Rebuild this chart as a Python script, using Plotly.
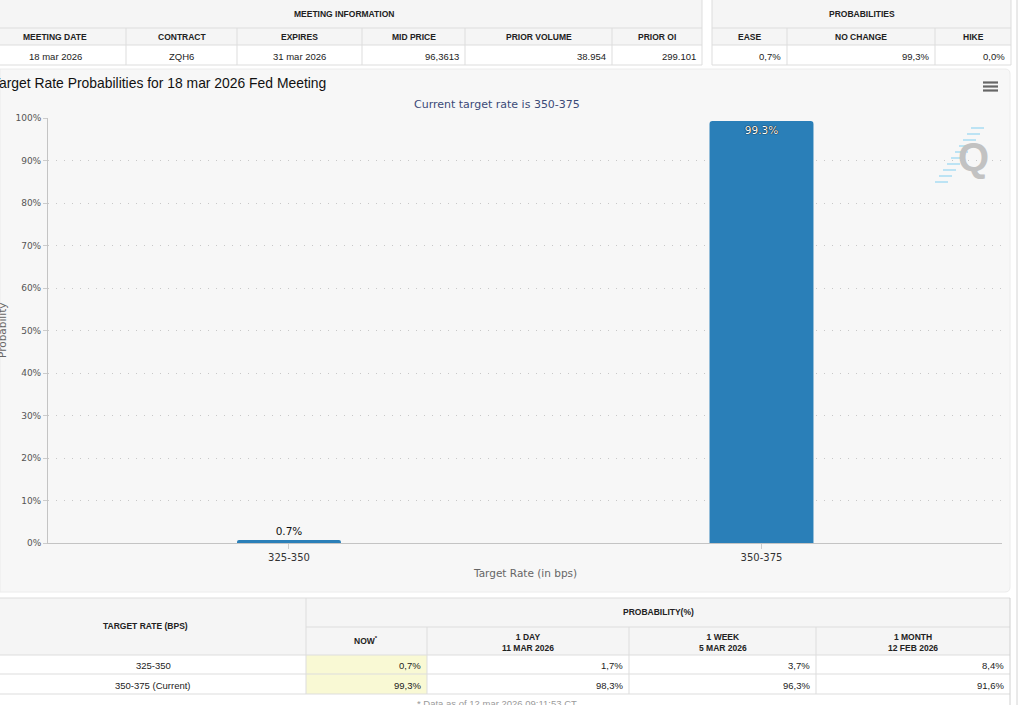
import plotly.graph_objects as go

# ---------------- data ----------------
categories = ["325-350", "350-375"]
probabilities = [0.7, 99.3]
bar_labels = ["0.7%", "99.3%"]
y_tick_values = [0, 10, 20, 30, 40, 50, 60, 70, 80, 90, 100]
y_tick_labels = ["0%", "10%", "20%", "30%", "40%", "50%", "60%", "70%", "80%", "90%", "100%"]

meeting_headers = ["MEETING DATE", "CONTRACT", "EXPIRES", "MID PRICE", "PRIOR VOLUME", "PRIOR OI"]
meeting_values = ["18 mar 2026", "ZQH6", "31 mar 2026", "96,3613", "38.954", "299.101"]
prob_headers = ["EASE", "NO CHANGE", "HIKE"]
prob_values = ["0,7%", "99,3%", "0,0%"]

hist_headers = ["NOW<sup>*</sup>", "1 DAY<br>11 MAR 2026", "1 WEEK<br>5 MAR 2026", "1 MONTH<br>12 FEB 2026"]
hist_rates = ["325-350", "350-375 (Current)"]
now_vals = ["0,7%", "99,3%"]
day_vals = ["1,7%", "98,3%"]
week_vals = ["3,7%", "96,3%"]
month_vals = ["8,4%", "91,6%"]

chart_title = "Target Rate Probabilities for 18 mar 2026 Fed Meeting"
chart_subtitle = "Current target rate is 350-375"
footer_note = "* Data as of 12 mar 2026 09:11:53 CT"

# ---------------- helpers (pixel -> paper) ----------------
W, H = 1024, 705


def X(p):
    return p / W


def Y(p):
    return 1 - p / H


shapes = []
ann = []
BORDER = "#dddddd"
HEAD_BG = "#f5f5f5"
TXT = "#222222"
TFONT = "Liberation Sans"


def rect(x0, y0, x1, y1, fill):
    shapes.append(dict(type="rect", xref="paper", yref="paper", x0=X(x0), x1=X(x1),
                       y0=Y(y1), y1=Y(y0), fillcolor=fill, line=dict(width=0), layer="below"))


def hline(x0, x1, y, color=BORDER, w=1):
    shapes.append(dict(type="line", xref="paper", yref="paper", x0=X(x0), x1=X(x1),
                       y0=Y(y), y1=Y(y), line=dict(color=color, width=w), layer="below"))


def vline(x, y0, y1, color=BORDER, w=1):
    shapes.append(dict(type="line", xref="paper", yref="paper", x0=X(x), x1=X(x),
                       y0=Y(y0), y1=Y(y1), line=dict(color=color, width=w), layer="below"))


def text(x, y, s, size=9.5, bold=False, anchor="center", color=TXT, family=TFONT, angle=0):
    ann.append(dict(xref="paper", yref="paper", x=X(x), y=Y(y), text=("<b>%s</b>" % s) if bold else s,
                    showarrow=False, xanchor=anchor, yanchor="middle", textangle=angle,
                    font=dict(family=family, size=size, color=color)))


# ---------------- top tables ----------------
m_edges = [-16, 126, 237, 362, 465, 612, 702]
m_align = ["center", "center", "center", "right", "right", "right"]
rect(-20, -5, 702, 45, HEAD_BG)
rect(-20, 45, 702, 65, "#ffffff")
hline(-20, 702, 28)
hline(-20, 702, 45)
hline(-20, 702, 65)
vline(702, -5, 65)
for e in m_edges[1:-1]:
    vline(e, 28, 65)
text((m_edges[0] + m_edges[-1]) / 2 + 1, 14, "MEETING INFORMATION", size=8.5, bold=True)
for i, (h, v) in enumerate(zip(meeting_headers, meeting_values)):
    l, r = m_edges[i], m_edges[i + 1]
    text((l + r) / 2, 37, h, size=8.5, bold=True)
    if m_align[i] == "center":
        text((l + r) / 2, 56, v)
    else:
        text(r - 4, 56, v, anchor="right")

p_edges = [712, 787, 935, 1011]
rect(712, -5, 1011, 45, HEAD_BG)
hline(712, 1011, 28)
hline(712, 1011, 45)
hline(712, 1011, 65)
vline(712, -5, 65)
vline(1011, -5, 65)
for e in p_edges[1:-1]:
    vline(e, 28, 65)
text((p_edges[0] + p_edges[-1]) / 2, 14, "PROBABILITIES", size=8.5, bold=True)
for i, (h, v) in enumerate(zip(prob_headers, prob_values)):
    l, r = p_edges[i], p_edges[i + 1]
    text((l + r) / 2, 37, h, size=8.5, bold=True)
    text(r - 4, 56, v, anchor="right")

# ---------------- chart background (rounded) ----------------
cx0, cy0, cx1, cy1, rr = 0, 69, 1010, 592, 5
path = (f"M {X(cx0)},{Y(cy0)} L {X(cx1 - rr)},{Y(cy0)} Q {X(cx1)},{Y(cy0)} {X(cx1)},{Y(cy0 + rr)} "
        f"L {X(cx1)},{Y(cy1 - rr)} Q {X(cx1)},{Y(cy1)} {X(cx1 - rr)},{Y(cy1)} "
        f"L {X(cx0)},{Y(cy1)} Z")
shapes.append(dict(type="path", xref="paper", yref="paper", path=path, fillcolor="#f7f7f7",
                   line=dict(color="#ececec", width=1), layer="below"))

# hamburger menu icon
for yy in (82.5, 86.5, 90.5):
    hline(983, 998, yy, color="#666666", w=2.2)

# watermark logo
for k in range(10):
    yy = 128 + k * 6
    xr = 984 - k * 4.0
    hline(xr - 13, xr, yy, color="#a9dcf3", w=1.5)
text(973, 157, "Q", size=40, bold=True, color="#c2c2c2", family="Liberation Sans")

# chart texts
text(328, 83, chart_title, size=13.9, anchor="right", color="#111111", family=TFONT)
text(497, 104, chart_subtitle, size=11, color="#3b4a78", family="DejaVu Sans")
text(525, 573, "Target Rate (in bps)", size=10.5, color="#666666", family="DejaVu Sans")
text(2, 330, "Probability", size=10.5, color="#666666", family="DejaVu Sans", angle=-90)

# ---------------- bottom table ----------------
b_edges = [-16, 306, 427, 629, 816, 1010]
rect(-20, 598, 1010, 655, HEAD_BG)
rect(-20, 655, 1010, 705, "#ffffff")
rect(306, 655, 427, 694, "#f9f9d4")
hline(-20, 1010, 598)
hline(306, 1010, 627)
hline(-20, 1010, 655)
hline(-20, 1010, 674)
hline(-20, 1010, 694)
vline(306, 598, 694)
for e in b_edges[2:-1]:
    vline(e, 627, 694)
vline(1010, 598, 705, color="#d0d0d0")
text(145, 626, "TARGET RATE (BPS)", size=8.5, bold=True)
text((306 + 1010) / 2, 612, "PROBABILITY(%)", size=8.5, bold=True)
text(366, 640, "NOW<sup>*</sup>", size=8.5, bold=True)
for i, h in enumerate(hist_headers[1:], start=2):
    text((b_edges[i] + b_edges[i + 1]) / 2, 642, h, size=8.5, bold=True)
row_ys = [665, 685]
cols = [now_vals, day_vals, week_vals, month_vals]
for j, rate in enumerate(hist_rates):
    text(153, row_ys[j], rate)
    for c, vals in enumerate(cols):
        text(b_edges[c + 2] - 4, row_ys[j], vals[j], anchor="right")
text(497, 703, footer_note, size=9.5, color="#9a9a9a")

# page right border
vline(1017, 0, 705, color="#d4d4d4")

# ---------------- figure ----------------
fig = go.Figure()
fig.add_trace(go.Bar(
    x=categories, y=probabilities, width=0.22,
    marker=dict(color="#2a7fb8", cornerradius=3, line=dict(width=0)),
    text=bar_labels, textposition=["outside", "inside"], insidetextanchor="end",
    insidetextfont=dict(family="DejaVu Sans", size=10.5, color="#ffffff",
                        shadow="0px 0px 1px #000000, 0px 0px 1px #000000"),
    outsidetextfont=dict(family="DejaVu Sans", size=10.5, color="#111111"),
    cliponaxis=False, hoverinfo="skip",
))

fig.update_layout(
    width=W, height=H, autosize=False,
    margin=dict(l=0, r=0, t=0, b=0, pad=0, autoexpand=False),
    paper_bgcolor="#ffffff", plot_bgcolor="rgba(0,0,0,0)",
    showlegend=False, shapes=shapes, annotations=ann,
    font=dict(family="DejaVu Sans"),
    xaxis=dict(domain=[X(48), X(1002)], type="category", range=[-0.51, 1.509],
               showgrid=False, automargin=False,
               showline=True, linecolor="#c4c4c4", linewidth=1,
               ticks="outside", ticklen=5, tickcolor="#cccccc",
               tickfont=dict(size=10, color="#333333"), fixedrange=True),
    yaxis=dict(domain=[Y(543), Y(118)], range=[0, 100], tickmode="array",
               tickvals=y_tick_values, ticktext=y_tick_labels, automargin=False,
               showgrid=True, griddash="1px,7px", gridcolor="#c8c8c8",
               gridwidth=1, zeroline=False, showline=True, linecolor="#c4c4c4",
               ticks="outside", ticklen=4, tickcolor="#cccccc",
               tickfont=dict(size=9, color="#555555"), fixedrange=True),
)

fig.write_html("out.html", config={"displayModeBar": False})
